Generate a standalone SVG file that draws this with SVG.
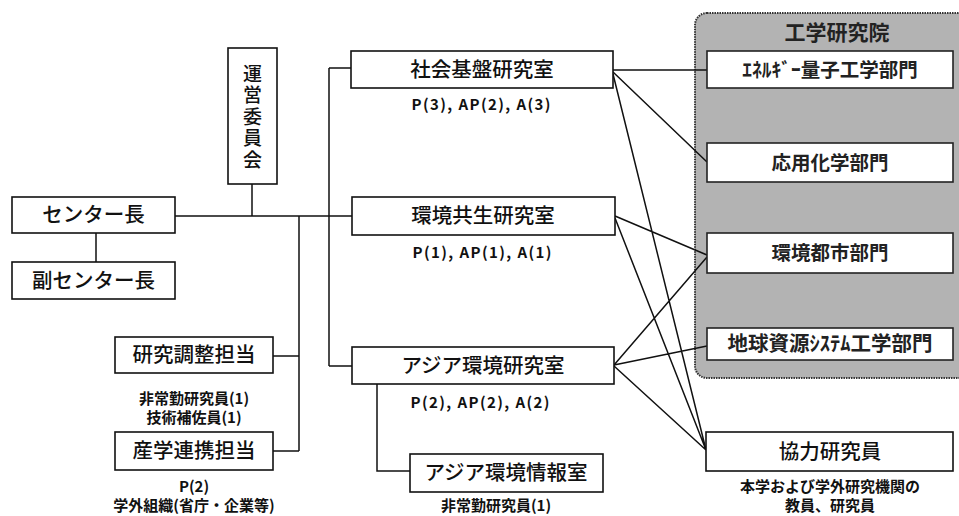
<svg xmlns="http://www.w3.org/2000/svg" width="959" height="516" viewBox="0 0 959 516">
<style>
.box{fill:#fff;stroke:#111;stroke-width:1.6}
.pbox{fill:#fff;stroke:#222;stroke-width:1.6}
.lbl{font-family:"Noto Sans CJK JP","Liberation Sans",sans-serif;font-size:20.5px;font-weight:500;fill:#111;text-anchor:middle}
.plbl{font-family:"Noto Sans CJK JP","Liberation Sans",sans-serif;font-size:19.5px;font-weight:bold;fill:#222;text-anchor:middle}
.cap{font-family:"Noto Sans CJK JP","Liberation Sans",sans-serif;font-size:15px;font-weight:bold;fill:#111;text-anchor:middle}
.ln{stroke:#111;stroke-width:1.5;fill:none}
</style>
<rect width="959" height="516" fill="#fff"/>
<g id="panel">
<rect x="695" y="13" width="290" height="365" rx="12" fill="#b3b3b3" stroke="#333" stroke-width="2" stroke-dasharray="1.5 1"/>
<text class="plbl" x="837" y="40" style="font-size:21px">工学研究院</text>
</g>
<g id="connectors">
<path class="ln" d="M175 216H352M252 184V216M96 233V262M299 216V451M273 356H299M273 451H299M329 68V366M329 68H351M329 366H352M377 384V471H410"/>
<path class="ln" d="M613 70H707M613 72L707 162M613 74L706 450M615 216L707 255M615 218L706 450M614 365L707 257M614 365L707 346M614 366L706 450"/>
</g>
<g id="unei">
<rect class="box" x="228" y="48" width="49" height="136"/>
<text class="lbl" x="252.5" y="118" style="writing-mode:vertical-rl;font-size:19px;letter-spacing:2.5px">運営委員会</text>
</g>
<g id="center-chief">
<rect class="box" x="12" y="197" width="163" height="36"/>
<text class="lbl" x="93.5" y="222">センター長</text>
</g>
<g id="vice-chief">
<rect class="box" x="12" y="262" width="163" height="37"/>
<text class="lbl" x="93.5" y="288">副センター長</text>
</g>
<g id="research-coord">
<rect class="box" x="115" y="337" width="158" height="36"/>
<text class="lbl" x="194" y="362">研究調整担当</text>
<text class="cap" x="194" y="404">非常勤研究員(1)</text>
<text class="cap" x="194" y="423">技術補佐員(1)</text>
</g>
<g id="industry">
<rect class="box" x="115" y="432" width="158" height="38"/>
<text class="lbl" x="194" y="458">産学連携担当</text>
<text class="cap" x="194" y="492">P(2)</text>
<text class="cap" x="194" y="511">学外組織(省庁・企業等)</text>
</g>
<g id="shakai">
<rect class="box" x="351" y="51" width="262" height="37"/>
<text class="lbl" x="482" y="77">社会基盤研究室</text>
<text class="cap" x="481" y="110" textLength="139" lengthAdjust="spacing">P(3), AP(2), A(3)</text>
</g>
<g id="kankyo">
<rect class="box" x="352" y="197" width="263" height="38"/>
<text class="lbl" x="483" y="223">環境共生研究室</text>
<text class="cap" x="482" y="258" textLength="139" lengthAdjust="spacing">P(1), AP(1), A(1)</text>
</g>
<g id="asia">
<rect class="box" x="352" y="347" width="262" height="37"/>
<text class="lbl" x="483" y="373">アジア環境研究室</text>
<text class="cap" x="480" y="408" textLength="139" lengthAdjust="spacing">P(2), AP(2), A(2)</text>
</g>
<g id="asia-info">
<rect class="box" x="410" y="454" width="193" height="38"/>
<text class="lbl" x="506" y="480">アジア環境情報室</text>
<text class="cap" x="496" y="511">非常勤研究員(1)</text>
</g>
<g id="energy">
<rect class="pbox" x="707" y="51" width="246" height="37"/>
<text class="plbl" x="830" y="77">ｴﾈﾙｷﾞｰ量子工学部門</text>
</g>
<g id="ouyou">
<rect class="pbox" x="707" y="143" width="246" height="39"/>
<text class="plbl" x="830" y="170">応用化学部門</text>
</g>
<g id="toshi">
<rect class="pbox" x="707" y="233" width="246" height="40"/>
<text class="plbl" x="830" y="260">環境都市部門</text>
</g>
<g id="chikyu">
<rect class="pbox" x="707" y="328" width="246" height="32"/>
<text class="plbl" x="830" y="351" style="font-size:20.5px">地球資源ｼｽﾃﾑ工学部門</text>
</g>
<g id="kyoryoku">
<rect class="box" x="706" y="432" width="247" height="39"/>
<text class="lbl" x="830" y="459">協力研究員</text>
<text class="cap" x="830" y="492">本学および学外研究機関の</text>
<text class="cap" x="830" y="511">教員、研究員</text>
</g>
</svg>
